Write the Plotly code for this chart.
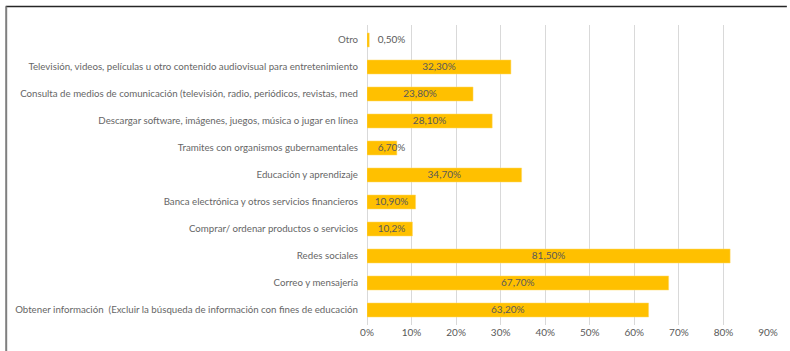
import plotly.graph_objects as go

categories = [
    "Obtener información  (Excluir la búsqueda de información con fines de educación",
    "Correo y mensajería",
    "Redes sociales",
    "Comprar/ ordenar productos o servicios",
    "Banca electrónica y otros servicios financieros",
    "Educación y aprendizaje",
    "Tramites con organismos gubernamentales",
    "Descargar software, imágenes, juegos, música o jugar en línea",
    "Consulta de medios de comunicación (televisión, radio, periódicos, revistas, med",
    "Televisión, videos, películas u otro contenido audiovisual para entretenimiento",
    "Otro",
]
values = [63.2, 67.7, 81.5, 10.2, 10.9, 34.7, 6.7, 28.1, 23.8, 32.3, 0.5]
value_labels = ["63,20%", "67,70%", "81,50%", "10,2%", "10,90%", "34,70%",
                "6,70%", "28,10%", "23,80%", "32,30%", "0,50%"]
tick_vals = [0, 10, 20, 30, 40, 50, 60, 70, 80, 90]
tick_text = ["0%", "10%", "20%", "30%", "40%", "50%", "60%", "70%", "80%", "90%"]

FONT = "Lato"
GRAY = "#595959"

fig = go.Figure()
fig.add_trace(go.Bar(
    y=categories, x=values, orientation="h",
    marker=dict(color="#FFC000", line=dict(color="#FFD966", width=0.5)),
    hoverinfo="skip", showlegend=False,
))
label_x = [max(v / 2, 5.5) for v in values]
fig.add_trace(go.Scatter(
    y=categories, x=label_x, mode="text", text=value_labels,
    textposition="middle center",
    textfont=dict(family=FONT, size=10, color=GRAY),
    hoverinfo="skip", showlegend=False,
))

fig.update_layout(
    width=790, height=351,
    margin=dict(l=367, r=19, t=25, b=26),
    paper_bgcolor="white", plot_bgcolor="white",
    bargap=0.48,
    font=dict(family=FONT, size=9, color=GRAY),
    xaxis=dict(range=[0, 90], tickvals=tick_vals, ticktext=tick_text,
               showgrid=True, gridcolor="#D9D9D9", gridwidth=1,
               zeroline=True, zerolinecolor="#D9D9D9", zerolinewidth=1,
               showline=False, ticks="", fixedrange=True,
               tickfont=dict(family=FONT, size=10, color=GRAY)),
    yaxis=dict(categoryorder="array", categoryarray=categories,
               showgrid=False, zeroline=False, showline=False, ticks="",
               ticklabelstandoff=8,
               tickfont=dict(family=FONT, size=9.7, color="#666666")),
    shapes=[
        dict(type="line", xref="paper", yref="paper",
             x0=(3 - 367) / 404, x1=(790 - 367) / 404,
             y0=(325 - 6.5) / 300, y1=(325 - 6.5) / 300,
             line=dict(color="#262626", width=1.5)),
        dict(type="line", xref="paper", yref="paper",
             x0=(3.5 - 367) / 404, x1=(3.5 - 367) / 404,
             y0=(325 - 6.5) / 300, y1=(325 - 351) / 300,
             line=dict(color="#7F7F7F", width=2)),
    ],
)

fig.write_html("out.html")
